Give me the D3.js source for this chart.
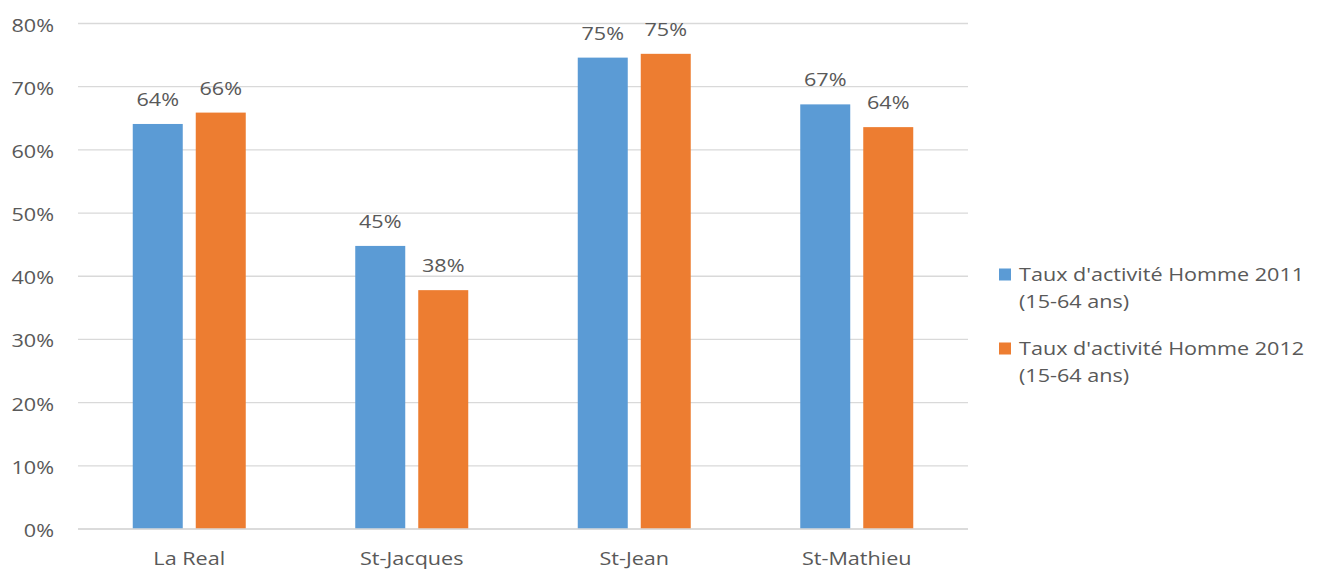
<!DOCTYPE html>
<html><head><meta charset="utf-8">
<script src="https://cdn.jsdelivr.net/npm/d3@7"></script>
<style>body{margin:0;background:#fff}svg{display:block}text{font-family:"Open Sans",sans-serif;fill:#595959}</style>
</head><body><svg id="c" width="1327" height="572"></svg>
<script>
const categories = ["La Real", "St-Jacques", "St-Jean", "St-Mathieu"];
const seriesNames = ["Taux d'activité Homme 2011\n(15-64 ans)", "Taux d'activité Homme 2012\n(15-64 ans)"];
const values2011 = [64.1, 44.8, 74.6, 67.2];
const values2012 = [65.9, 37.8, 75.2, 63.6];
const yTicks = [0, 10, 20, 30, 40, 50, 60, 70, 80];
const colors = ["#5B9BD5", "#ED7D31"];

(function () {
const svg = d3.select("#c");
const pl = 78, pr = 968, pt = 23.5, pb = 529;
const SX = 1.2, FS = 18;

const x = d3.scaleBand().domain(categories).range([pl, pr]).paddingInner(0).paddingOuter(0);
const x1 = d3.scaleBand().domain([0, 1]).range([0, 113]).paddingInner(13/63).paddingOuter(0);
const y = d3.scaleLinear().domain([0, 80]).range([pb, pt]);

function stext(g, tx, ty, str, anchor) {
  return g.append("text").attr("transform", `translate(${tx},${ty}) scale(${SX},1)`)
    .attr("text-anchor", anchor).style("font-size", FS + "px").text(str);
}

svg.append("g").selectAll("line").data(yTicks).join("line")
  .attr("x1", pl).attr("x2", pr).attr("y1", d => y(d)).attr("y2", d => y(d))
  .attr("stroke", "#D9D9D9").attr("stroke-width", 1.3);

const yl = svg.append("g");
yTicks.forEach(d => stext(yl, 54, y(d) + 8, d + "%", "end"));

const series = [values2011, values2012];
const gb = svg.append("g");
series.forEach((vals, si) => {
  categories.forEach((c, i) => {
    const bx = x(c) + (x.bandwidth() - 113) / 2 + x1(si);
    gb.append("rect").attr("x", bx).attr("width", x1.bandwidth())
      .attr("y", y(vals[i])).attr("height", y(0) - y(vals[i])).attr("fill", colors[si]);
    stext(gb, bx + x1.bandwidth() / 2, y(vals[i]) - 18, Math.round(vals[i]) + "%", "middle");
  });
});

svg.append("line").attr("x1", pl).attr("x2", pr).attr("y1", y(0)).attr("y2", y(0))
  .attr("stroke", "#D9D9D9").attr("stroke-width", 1.3);

const cl = svg.append("g");
categories.forEach(c => stext(cl, x(c) + x.bandwidth() / 2, 565, c, "middle"));

const lg = svg.append("g");
const legY = [281, 355];
seriesNames.forEach((n, i) => {
  lg.append("rect").attr("x", 999).attr("y", legY[i] - 12.5).attr("width", 12).attr("height", 12).attr("fill", colors[i]);
  n.split("\n").forEach((line, j) => stext(lg, 1019, legY[i] + j * 27, line, "start"));
});
})();
</script></body></html>
